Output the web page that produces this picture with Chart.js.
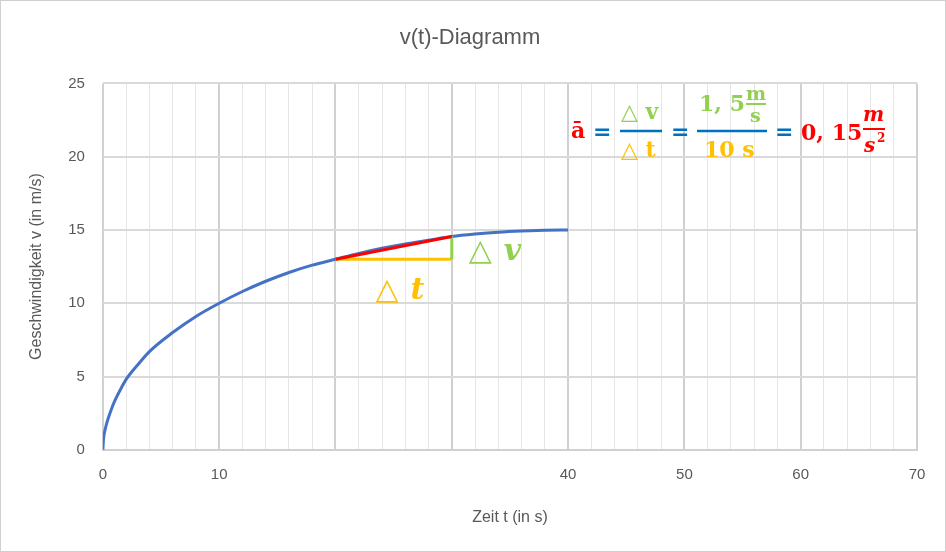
<!DOCTYPE html>
<html>
<head>
<meta charset="utf-8">
<script src="https://cdn.jsdelivr.net/npm/chart.js@4"></script>
<style>
html, body { margin: 0; padding: 0; background: #fff; }
#wrap { width: 944px; height: 550px; border: 1px solid #d0d0d0; }
</style>
</head>
<body>
<div id="wrap"><canvas id="myChart" width="944" height="550"></canvas></div>
<script>
// v(t) curve
var time_s = [0, 0.05, 0.2, 0.4, 0.7, 1, 1.5, 2, 3, 4, 6, 8, 10, 12, 14, 16, 18, 20, 22, 24, 26, 28, 30, 32, 34, 36, 38, 40];
var speed_ms = [0, 0.7, 1.4, 2.0, 2.7, 3.3, 4.1, 4.8, 5.8, 6.7, 8.0, 9.1, 10.0, 10.8, 11.5, 12.1, 12.6, 13.0, 13.4, 13.75, 14.05, 14.3, 14.55, 14.72, 14.85, 14.93, 14.98, 15.0];
// secant and triangle
var secant_t = [20, 30];
var secant_v = [13, 14.55];
var hidden_tick_labels = [20, 30];

var font_family = "'Liberation Sans', 'Open Sans', sans-serif";
var math_font = "'DejaVu Serif', serif";

function make_points(xs, ys) {
    var pts = [];
    for (let i = 0; i < xs.length; i++) {
        pts.push({ x: xs[i], y: ys[i] });
    }
    return pts;
}

var annotationPlugin = {
    id: 'annot',
    afterDatasetsDraw: function (chart) {
        var ctx = chart.ctx;
        var xs = chart.scales.x, ys = chart.scales.y;
        var x1 = xs.getPixelForValue(secant_t[0]);
        var x2 = xs.getPixelForValue(secant_t[1]);
        var y1 = ys.getPixelForValue(secant_v[0]);
        var y2 = ys.getPixelForValue(secant_v[1]);
        ctx.save();
        ctx.lineWidth = 3;
        ctx.strokeStyle = '#ffc000';
        ctx.beginPath(); ctx.moveTo(x1, y1); ctx.lineTo(x2, y1); ctx.stroke();
        ctx.strokeStyle = '#92d050';
        ctx.beginPath(); ctx.moveTo(x2, y1); ctx.lineTo(x2, y2); ctx.stroke();
        ctx.strokeStyle = '#ff0000';
        ctx.beginPath(); ctx.moveTo(x1, y1); ctx.lineTo(x2, y2); ctx.stroke();

        ctx.textBaseline = 'alphabetic';
        ctx.fillStyle = '#ffc000';
        ctx.font = '30px ' + math_font;
        ctx.fillText('\u25B3', x1 + 40, y1 + 40);
        ctx.font = 'bold italic 30px ' + math_font;
        ctx.fillText('t', x1 + 75, y1 + 40);
        ctx.fillStyle = '#92d050';
        ctx.font = '30px ' + math_font;
        ctx.fillText('\u25B3', x2 + 17, y1 + 1);
        ctx.font = 'bold italic 30px ' + math_font;
        ctx.fillText('v', x2 + 52, y1 + 1);

        // formula
        var blue = '#0070c0', green = '#92d050', orange = '#ffc000', red = '#ff0000';
        function txt(s, x, y, col, f) { ctx.fillStyle = col; ctx.font = f; ctx.fillText(s, x, y); }
        function bar(xa, xb, y, col, w) {
            ctx.strokeStyle = col; ctx.lineWidth = w;
            ctx.beginPath(); ctx.moveTo(xa, y); ctx.lineTo(xb, y); ctx.stroke();
        }
        var b22 = 'bold 22px ' + math_font;
        txt('\u0101', 570, 137, red, b22);
        txt('=', 592, 138, blue, b22);
        bar(619, 661, 130, blue, 2.5);
        txt('\u25B3 v', 620, 118, green, b22);
        txt('\u25B3 t', 620, 156, orange, b22);
        txt('=', 670, 138, blue, b22);
        bar(696, 766, 130, blue, 2.5);
        txt('1, 5', 698, 110, green, b22);
        txt('m', 745, 99, green, 'bold 19px ' + math_font);
        bar(745, 765, 103, green, 2);
        txt('s', 749, 121, green, 'bold 19px ' + math_font);
        txt('10 s', 703, 156, orange, b22);
        txt('=', 774, 138, blue, b22);
        txt('0, 15', 800, 139, red, b22);
        txt('m', 862, 120, red, 'bold italic 20px ' + math_font);
        bar(862, 884, 128, red, 2);
        txt('s', 863, 151, red, 'bold italic 20px ' + math_font);
        txt('2', 876, 141, red, 'bold 12px ' + math_font);
        ctx.restore();
    }
};

var chartConfig = {
    type: 'scatter',
    data: {
        datasets: [{
            data: make_points(time_s, speed_ms),
            showLine: true,
            borderColor: '#4472c4',
            borderWidth: 3,
            pointRadius: 0,
            cubicInterpolationMode: 'monotone'
        }]
    },
    options: {
        responsive: false,
        animation: false,
        layout: { padding: { left: 22, right: 28, top: 10, bottom: 20 } },
        scales: {
            x: {
                min: 0, max: 70,
                ticks: {
                    stepSize: 2,
                    autoSkip: false,
                    maxRotation: 0,
                    padding: 16,
                    color: '#595959',
                    font: { size: 15, family: font_family },
                    callback: function (v) {
                        if (v % 10 !== 0 || hidden_tick_labels.indexOf(v) >= 0) return '';
                        return v;
                    }
                },
                grid: {
                    color: function (c) { return c.tick.value % 10 === 0 ? '#d0d0d0' : '#e6e6e6'; },
                    lineWidth: function (c) { return c.tick.value % 10 === 0 ? 2 : 1; },
                    drawTicks: false
                },
                border: { color: '#d0d0d0', width: 2 },
                title: { display: true, text: 'Zeit t (in s)', color: '#595959', padding: { top: 8 }, font: { size: 16, family: font_family } }
            },
            y: {
                min: 0, max: 25,
                ticks: { stepSize: 5, color: '#595959', padding: 18, font: { size: 15, family: font_family } },
                grid: { color: '#d9d9d9', lineWidth: 2, drawTicks: false },
                border: { display: false },
                title: { display: true, text: 'Geschwindigkeit v (in m/s)', color: '#595959', font: { size: 16, family: font_family } }
            }
        },
        plugins: {
            legend: { display: false },
            tooltip: { enabled: false },
            title: {
                display: true,
                text: 'v(t)-Diagramm',
                color: '#595959',
                padding: { top: 14, bottom: 32 },
                font: { size: 22, weight: 'normal', family: font_family }
            }
        }
    },
    plugins: [annotationPlugin]
};

var ctx = document.getElementById('myChart').getContext('2d');
var chart = new Chart(ctx, chartConfig);
</script>
</body>
</html>
